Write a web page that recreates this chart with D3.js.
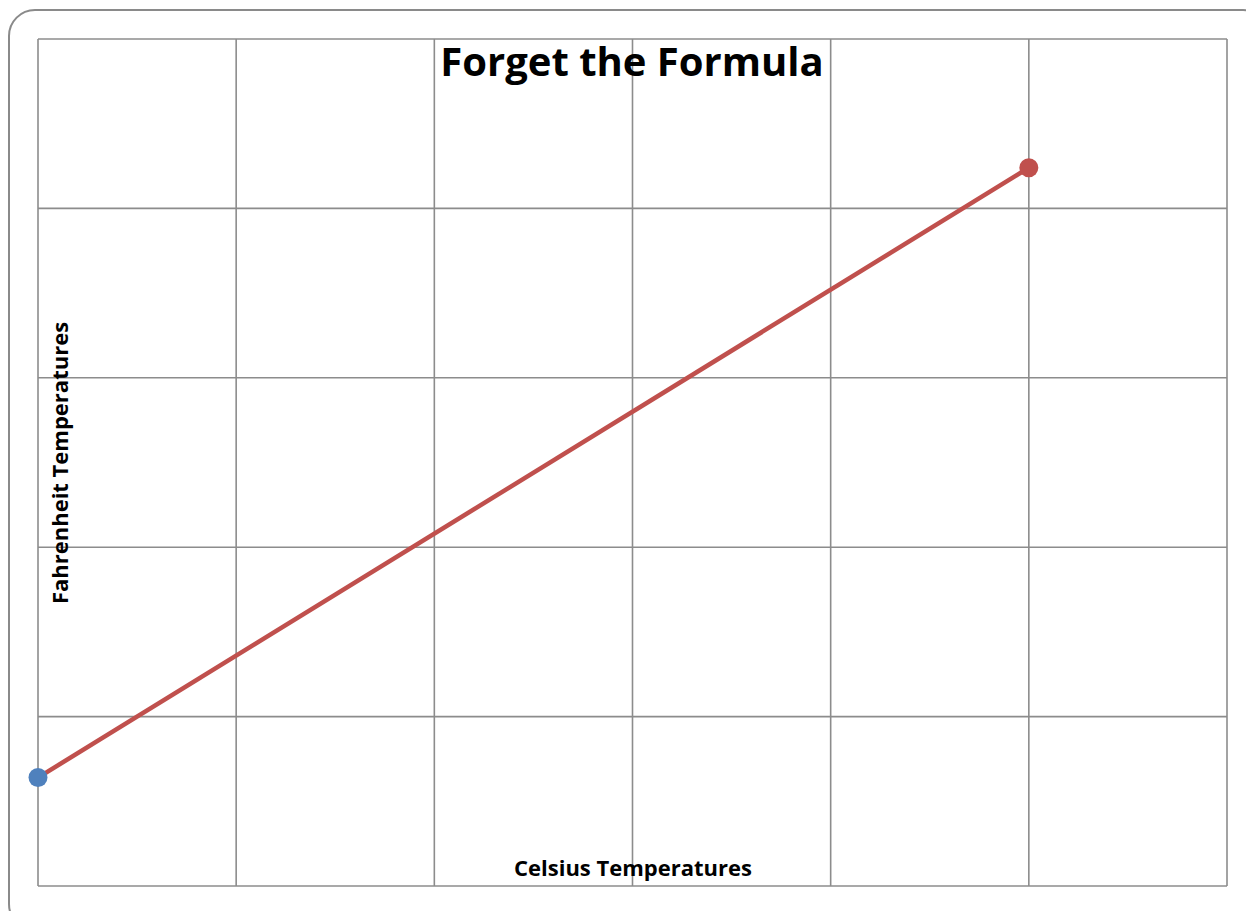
<!DOCTYPE html>
<html>
<head>
<meta charset="utf-8">
<script src="https://cdn.jsdelivr.net/npm/d3@7"></script>
<style>
  body { margin: 0; background: #fff; }
  svg { display: block; }
</style>
</head>
<body>
<svg></svg>
<script>
// celsius -> fahrenheit, two points
var celsius = [0, 100];
var fahrenheit = [32, 212];
var pointColors = ["#4F81BD", "#C0504D"];

var xTicks = [0, 20, 40, 60, 80, 100, 120];
var yTicks = [0, 50, 100, 150, 200, 250];

var drawChart = function()
{
  var width = 1246;
  var height = 911;
  var plot = { left: 38, top: 39, right: 1227, bottom: 886 };

  var svg = d3.select("svg")
    .attr("width", width)
    .attr("height", height)

  // outer rounded frame
  svg.append("rect")
    .attr("x", 9)
    .attr("y", 10)
    .attr("width", 1260)
    .attr("height", 920)
    .attr("rx", 26)
    .attr("fill", "none")
    .attr("stroke", "#8a8a8a")
    .attr("stroke-width", 2)

  var xScale = d3.scaleLinear()
    .domain([0, 120])
    .range([plot.left, plot.right])

  var yScale = d3.scaleLinear()
    .domain([0, 250])
    .range([plot.bottom, plot.top])

  // grid
  svg.append("g")
    .selectAll("line")
    .data(xTicks)
    .enter()
    .append("line")
    .attr("x1", function(d){ return xScale(d); })
    .attr("x2", function(d){ return xScale(d); })
    .attr("y1", plot.top)
    .attr("y2", plot.bottom)
    .attr("stroke", "#8c8c8c")
    .attr("stroke-width", 1.6)

  svg.append("g")
    .selectAll("line")
    .data(yTicks)
    .enter()
    .append("line")
    .attr("x1", plot.left)
    .attr("x2", plot.right)
    .attr("y1", function(d){ return yScale(d); })
    .attr("y2", function(d){ return yScale(d); })
    .attr("stroke", "#8c8c8c")
    .attr("stroke-width", 1.6)

  // title
  svg.append("text")
    .attr("x", 632)
    .attr("y", 76)
    .attr("text-anchor", "middle")
    .attr("font-family", "'Open Sans', sans-serif")
    .attr("font-weight", "bold")
    .attr("font-size", 40)
    .text("Forget the Formula")

  // axis titles
  svg.append("text")
    .attr("x", 633)
    .attr("y", 876)
    .attr("text-anchor", "middle")
    .attr("font-family", "'Open Sans', sans-serif")
    .attr("font-weight", "bold")
    .attr("font-size", 22)
    .text("Celsius Temperatures")

  svg.append("text")
    .attr("transform", "translate(68,463) rotate(-90)")
    .attr("text-anchor", "middle")
    .attr("font-family", "'Open Sans', sans-serif")
    .attr("font-weight", "bold")
    .attr("font-size", 22)
    .text("Fahrenheit Temperatures")

  var points = celsius.map(function(c, i){ return { x: c, y: fahrenheit[i], color: pointColors[i] }; });

  var drawLine = d3.line()
    .x(function(d){ return xScale(d.x); })
    .y(function(d){ return yScale(d.y); })

  svg.append("path")
    .datum(points)
    .attr("d", drawLine)
    .attr("fill", "none")
    .attr("stroke", "#C0504D")
    .attr("stroke-width", 4.5)

  svg.append("g")
    .selectAll("circle")
    .data(points)
    .enter()
    .append("circle")
    .attr("cx", function(d){ return xScale(d.x); })
    .attr("cy", function(d){ return yScale(d.y); })
    .attr("r", 9.5)
    .attr("fill", function(d){ return d.color; })
}

drawChart();
</script>
</body>
</html>
